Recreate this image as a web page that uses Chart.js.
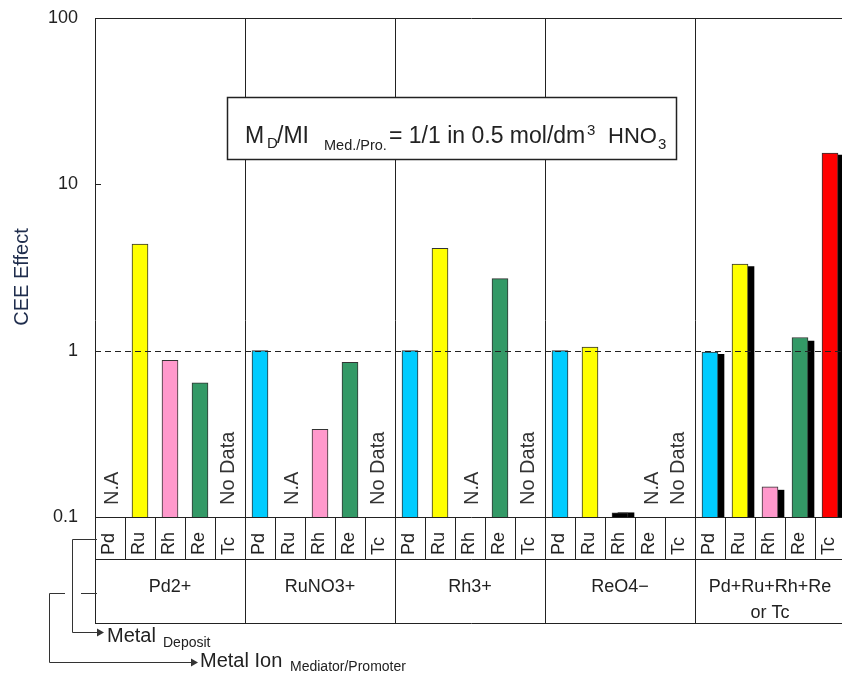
<!DOCTYPE html>
<html>
<head>
<meta charset="utf-8">
<script src="https://cdn.jsdelivr.net/npm/chart.js@4/dist/chart.umd.min.js"></script>
<style>
  html, body { margin: 0; padding: 0; overflow: hidden; background: #fff; }
  canvas { display: block; }
</style>
</head>
<body>
<canvas id="chart" width="848" height="675"></canvas>
<script>
// metal ion groups (mediator / promoter) and deposited metals
const groups = ['Pd2+', 'RuNO3+', 'Rh3+', 'ReO4−', 'Pd+Ru+Rh+Re\nor Tc'];
const metals = ['Pd', 'Ru', 'Rh', 'Re', 'Tc'];
const metalColors = ['#00CCFF', '#FFFF00', '#FF99CC', '#339966', '#FF0000'];

// CEE effect per group x metal (null = no bar)
const ceeValues = [
  null, 4.37, 0.875, 0.64, null,
  1.0, null, 0.336, 0.85, null,
  1.0, 4.12, null, 2.71, null,
  1.0, 1.05, 0.106, null, null,
  0.98, 3.31, 0.152, 1.2, 15.4
];
// black shadow bars drawn behind some of the bars
const shadowValues = [
  null, null, null, null, null,
  null, null, null, null, null,
  null, null, null, null, null,
  null, null, 0.106, null, null,
  0.95, 3.2, 0.145, 1.14, 15.0
];
const notes = [
  'N.A', null, null, null, 'No Data',
  null, 'N.A', null, null, 'No Data',
  null, null, 'N.A', null, 'No Data',
  null, null, null, 'N.A', 'No Data',
  null, null, null, null, null
];
const yTicks = [0.1, 1, 10, 100];

const nCat = groups.length * metals.length;
const catLabels = [];
const catColors = [];
groups.forEach(() => metals.forEach((m, j) => { catLabels.push(m); catColors.push(metalColors[j]); }));
catColors[17] = '#000000';

const mainData = [];
const mainColors = [];
ceeValues.forEach((v, i) => {
  if (v != null) { mainData.push({ x: i + 0.5, y: v }); mainColors.push(catColors[i]); }
});
const shadowData = [];
shadowValues.forEach((v, i) => {
  if (v != null) shadowData.push({ x: i + 0.7, y: v });
});

const FONT = '"Liberation Sans", Arial, sans-serif';
const INK = '#222';

function line(ctx, x1, y1, x2, y2) {
  ctx.beginPath();
  ctx.moveTo(x1, y1);
  ctx.lineTo(x2, y2);
  ctx.stroke();
}

function arrowHead(ctx, x, y) {
  ctx.beginPath();
  ctx.moveTo(x, y);
  ctx.lineTo(x - 7, y - 4);
  ctx.lineTo(x - 7, y + 4);
  ctx.closePath();
  ctx.fill();
}

const decor = {
  id: 'decor',
  afterDatasetsDraw(chart) {
    const ctx = chart.ctx;
    const xs = chart.scales.x, ys = chart.scales.y;
    const { left, top, bottom } = chart.chartArea;
    const W = chart.width;
    const rowMid = bottom + 42, rowEnd = bottom + 106;
    ctx.save();
    ctx.strokeStyle = INK;
    ctx.fillStyle = INK;
    ctx.lineWidth = 1;

    // frame
    line(ctx, left + 0.5, top, left + 0.5, rowEnd);
    line(ctx, left, top + 0.5, W, top + 0.5);
    [bottom, rowMid, rowEnd].forEach(y => line(ctx, left, Math.round(y) + 0.5, W, Math.round(y) + 0.5));
    for (let k = 1; k < nCat; k++) {
      const x = Math.round(xs.getPixelForValue(k)) + 0.5;
      if (k % metals.length === 0) line(ctx, x, top, x, rowEnd);
      else line(ctx, x, bottom, x, rowMid);
    }
    // inward ticks
    yTicks.forEach(v => {
      const y = Math.round(ys.getPixelForValue(v)) + 0.5;
      line(ctx, left, y, left + 6, y);
    });

    // dashed reference at 1
    ctx.setLineDash([6, 4]);
    const y1 = Math.round(ys.getPixelForValue(1)) + 0.5;
    line(ctx, left, y1, W, y1);
    ctx.setLineDash([]);

    // notes
    ctx.font = '20px ' + FONT;
    ctx.fillStyle = '#333';
    ctx.textAlign = 'left';
    ctx.textBaseline = 'middle';
    notes.forEach((t, i) => {
      if (!t) return;
      const x = xs.getPixelForValue(i + 0.5) + (t === 'N.A' ? 2 : -2);
      ctx.save();
      ctx.translate(x, bottom - 12);
      ctx.rotate(-Math.PI / 2);
      ctx.fillText(t, 0, 0);
      ctx.restore();
    });

    // category labels
    ctx.font = '18px ' + FONT;
    ctx.fillStyle = INK;
    catLabels.forEach((t, i) => {
      const x = xs.getPixelForValue(i + 0.5) - 1;
      ctx.save();
      ctx.translate(x, bottom + 38);
      ctx.rotate(-Math.PI / 2);
      ctx.fillText(t, 0, 0);
      ctx.restore();
    });

    // group labels
    ctx.textAlign = 'center';
    ctx.textBaseline = 'alphabetic';
    groups.forEach((g, gi) => {
      const x = xs.getPixelForValue(gi * metals.length + metals.length / 2);
      g.split('\n').forEach((ln, li) => ctx.fillText(ln, x, bottom + 75 + li * 26));
    });

    // y title
    ctx.save();
    ctx.fillStyle = '#1f2d4d';
    ctx.font = '20px ' + FONT;
    ctx.translate(22, 277);
    ctx.rotate(-Math.PI / 2);
    ctx.textBaseline = 'middle';
    ctx.fillText('CEE Effect', 0, 0);
    ctx.restore();

    // condition box
    ctx.fillStyle = '#fff';
    ctx.fillRect(227, 97, 449, 62);
    ctx.lineWidth = 1.5;
    ctx.strokeRect(227.5, 97.5, 449, 62);
    ctx.lineWidth = 1;
    ctx.fillStyle = INK;
    ctx.textAlign = 'left';
    const parts = [
      ['M', 23, 245, 143], ['D', 15, 267, 148], ['/MI', 23, 277, 143], ['Med./Pro.', 14.5, 324, 150],
      ['= 1/1 in 0.5 mol/dm', 23, 389, 143], ['3', 15, 587, 135], ['HNO', 22, 608, 143], ['3', 15, 658, 149]
    ];
    parts.forEach(([t, s, x, y]) => { ctx.font = s + 'px ' + FONT; ctx.fillText(t, x, y); });

    // axis legend arrows
    ctx.strokeStyle = '#333';
    ctx.fillStyle = '#333';
    ctx.beginPath();
    ctx.moveTo(97, 539.5); ctx.lineTo(72.5, 539.5); ctx.lineTo(72.5, 632.5); ctx.lineTo(98, 632.5);
    ctx.stroke();
    arrowHead(ctx, 104, 632.5);
    line(ctx, 97, 593.5, 81, 593.5);
    ctx.beginPath();
    ctx.moveTo(65, 593.5); ctx.lineTo(49.5, 593.5); ctx.lineTo(49.5, 662.5); ctx.lineTo(192, 662.5);
    ctx.stroke();
    arrowHead(ctx, 198, 662.5);

    ctx.fillStyle = INK;
    ctx.font = '20px ' + FONT;
    ctx.fillText('Metal', 107, 642);
    ctx.fillText('Metal Ion', 200, 667);
    ctx.font = '14px ' + FONT;
    ctx.fillText('Deposit', 163, 647);
    ctx.fillText('Mediator/Promoter', 290, 671);
    ctx.restore();
  }
};

new Chart(document.getElementById('chart'), {
  type: 'bar',
  data: {
    datasets: [
      {
        label: 'CEE',
        data: mainData,
        backgroundColor: mainColors,
        borderColor: '#333',
        borderWidth: 1,
        barThickness: 16,
        grouped: false
      },
      {
        label: 'shadow',
        data: shadowData,
        backgroundColor: '#000',
        borderWidth: 0,
        barThickness: 16,
        grouped: false
      }
    ]
  },
  options: {
    responsive: false,
    animation: false,
    events: [],
    layout: { padding: { left: 0, right: 3, top: 18, bottom: 158 } },
    plugins: { legend: { display: false }, tooltip: { enabled: false } },
    scales: {
      x: { type: 'linear', min: 0, max: nCat, offset: false, display: false },
      y: {
        type: 'logarithmic',
        min: 0.1,
        max: 100,
        afterBuildTicks: s => { s.ticks = yTicks.map(v => ({ value: v })); },
        afterFit: s => { s.width = 95; },
        grid: { display: true, drawOnChartArea: false, drawTicks: true, tickLength: 17, color: 'rgba(0,0,0,0)' },
        border: { display: false },
        ticks: {
          callback: v => String(v),
          color: INK,
          padding: 0,
          font: { family: FONT, size: 18 }
        }
      }
    }
  },
  plugins: [decor]
});
</script>
</body>
</html>
